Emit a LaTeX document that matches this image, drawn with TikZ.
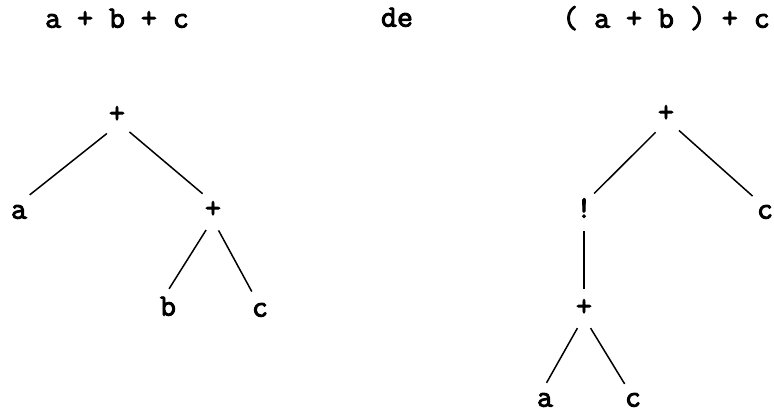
\documentclass[tikz,border=0pt]{standalone}
\usepackage{fontspec}
% Emboldened typewriter face for the expression labels
\newfontfamily\treefont{Latin Modern Mono}[FakeBold=3]
\begin{document}
\begin{tikzpicture}[x=1bp,y=-1bp,
  label text/.style={inner sep=0pt,text height=13.3bp,text depth=0bp,
    font=\treefont\fontsize{31bp}{36bp}\selectfont},
  sym/.style={label text,circle,minimum size=40bp},
  leaf/.style={label text,circle,minimum size=22bp},
  edge/.style={line width=1.5bp,draw=black}]
\useasboundingbox (0,0) rectangle (774,415);

% headings
\node[label text] (t1) at (117,21) {a + b + c};
\node[label text] (t2) at (397,20) {de};
\node[label text] (t3) at (666,21) {( a + b ) + c};

% tree for a + b + c
\node[sym] (r1) at (117,116) {+};
\node[sym] (a1) at (19,212) {a};
\node[sym] (p1) at (213,211) {+};
\node[sym] (b1) at (168,309) {b};
\node[sym] (c1) at (260,310) {c};

\draw[edge] (r1.-120) -- (a1.58);
\draw[edge] (r1.-52) -- (p1.121);
\draw[edge] (p1.-110) -- (b1.87);
\draw[edge] (p1.-74) -- (c1.114);

% tree for ( a + b ) + c
\node[sym] (r2) at (666,115) {+};
\node[sym] (e2) at (584,211) {!};
\node[sym] (c2) at (765,212) {c};
\node[sym] (p2) at (584,309) {+};
\node[leaf] (a2) at (545,400) {a};
\node[leaf] (c3) at (633,400) {c};

\draw[edge] (r2.-121) -- (e2.60);
\draw[edge] (r2.-50) -- (c2.128);
\draw[edge] (e2.-90) -- (p2.90);
\draw[edge,shorten >=7bp] (p2.-109) -- (a2.100);
\draw[edge,shorten >=7bp] (p2.-71) -- (c3.115);
\end{tikzpicture}
\end{document}
